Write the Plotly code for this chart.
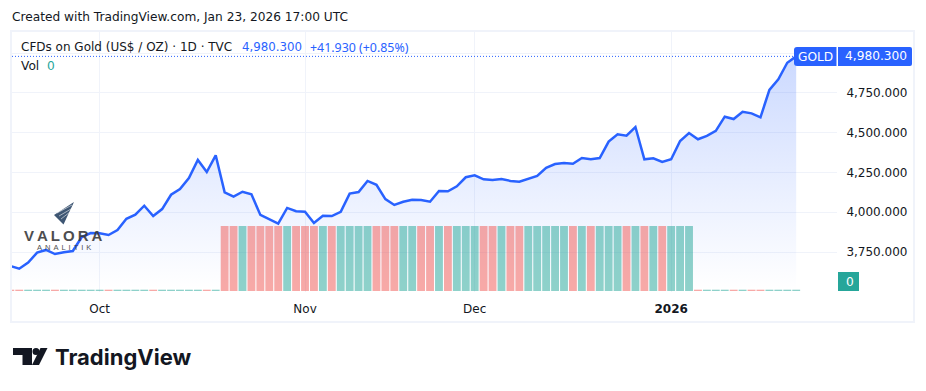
import plotly.graph_objects as go

W, H = 926, 391
PANE_L, PANE_R, PANE_T, PANE_B = 12, 837, 32, 292

close_prices = [
    3662, 3645, 3683, 3746, 3763, 3737, 3748, 3756, 3844, 3869,
    3868, 3857, 3888, 3959, 3985, 4041, 3976, 4020, 4110, 4146,
    4215, 4329, 4253, 4358, 4125, 4098, 4129, 4113, 3983, 3956,
    3928, 4027, 4006, 4003, 3932, 3978, 3976, 4003, 4117, 4127,
    4197, 4173, 4083, 4046, 4066, 4079, 4077, 4066, 4134, 4132,
    4163, 4220, 4232, 4207, 4203, 4209, 4197, 4192, 4209, 4228,
    4280, 4303, 4310, 4305, 4341, 4333, 4341, 4444, 4490, 4481,
    4536, 4333, 4339, 4316, 4333, 4448, 4498, 4459, 4480, 4512,
    4601, 4586, 4632, 4622, 4597, 4769, 4836, 4940, 4980.3,
]
volumes = [
    .02, .02, .02, .02, .02, .02, .02, .02, .02, .02, .02, .02,
    .02, .02, .02, .02, .02, .02, .02, .02, .02, .02, .02, .02,
    1, 1, 1, 1, 1, 1, 1, 1, 1, 1,
    1, 1, 1, 1, 1, 1, 1, 1, 1, 1,
    1, 1, 1, 1, 1, 1, 1, 1, 1, 1,
    1, 1, 1, 1, 1, 1, 1, 1, 1, 1,
    1, 1, 1, 1, 1, 1, 1, 1, 1, 1,
    1, 1, 1,
    .02, .02, .02, .02, .02, .02, .02, .02, .02, .02, .02, .02,
]
directions = list(
    "dduuuduuuu" "uduuuuduuu" "uudu"
    "dduddddudd" "duduuuuddd" "uudduduuud" "dudduuuuud" "uduuududud" "uuu"
    "duuududduuuu"
)
tick_positions = [10, 33, 52, 74]
tick_labels = ["Oct", "Nov", "Dec", "<b>2026</b>"]
price_ticks = [3750, 4000, 4250, 4500, 4750, 5000]
price_tick_labels = ["3,750.000", "4,000.000", "4,250.000", "4,500.000", "4,750.000", ""]

BLUE = "#2962FF"
TEAL = "#26A69A"
TEXT = "#131722"
FONT = "DejaVu Sans"
bar_colors = {"u": "rgba(38,166,154,0.52)", "d": "rgba(239,83,80,0.5)"}


def px(x):
    return (x - PANE_L) / (PANE_R - PANE_L)


def py(y):
    return (PANE_B - y) / (PANE_B - PANE_T)


def poly(points):
    return "M " + " L ".join(f"{px(a):.5f},{py(b):.5f}" for a, b in points) + " Z"


def rounded(x0, y0, x1, y1, left, right):
    parts = [f"M {px(x0 + left):.5f},{py(y0):.5f}", f"L {px(x1 - right):.5f},{py(y0):.5f}"]
    if right:
        parts.append(f"Q {px(x1):.5f},{py(y0):.5f} {px(x1):.5f},{py(y0 + right):.5f}")
        parts.append(f"L {px(x1):.5f},{py(y1 - right):.5f}")
        parts.append(f"Q {px(x1):.5f},{py(y1):.5f} {px(x1 - right):.5f},{py(y1):.5f}")
    else:
        parts.append(f"L {px(x1):.5f},{py(y1):.5f}")
    parts.append(f"L {px(x0 + left):.5f},{py(y1):.5f}")
    if left:
        parts.append(f"Q {px(x0):.5f},{py(y1):.5f} {px(x0):.5f},{py(y1 - left):.5f}")
        parts.append(f"L {px(x0):.5f},{py(y0 + left):.5f}")
        parts.append(f"Q {px(x0):.5f},{py(y0):.5f} {px(x0 + left):.5f},{py(y0):.5f}")
    parts.append("Z")
    return " ".join(parts)


indices = list(range(len(close_prices)))
fig = go.Figure()
fig.add_trace(go.Scatter(
    x=indices, y=close_prices, mode="lines", line=dict(color=BLUE, width=2.5),
    fill="tozeroy",
    fillgradient=dict(type="vertical", start=3510, stop=4980,
                      colorscale=[[0, "rgba(41,98,255,0.0)"], [0.35, "rgba(41,98,255,0.08)"],
                                  [1, "rgba(41,98,255,0.24)"]]),
    hoverinfo="skip", showlegend=False,
))
fig.add_trace(go.Bar(
    x=indices, y=volumes, yaxis="y2", width=0.88, marker_line_width=0,
    marker_color=[bar_colors[d] for d in directions], hoverinfo="skip", showlegend=False,
))

shapes = [
    dict(type="rect", xref="paper", yref="paper", x0=px(11), x1=px(914), y0=py(31), y1=py(322),
         line=dict(color="#F0F3FA", width=2), layer="below"),
    dict(type="line", xref="paper", yref="y", x0=0, x1=px(794), y0=close_prices[-1], y1=close_prices[-1],
         line=dict(color=BLUE, width=1, dash="1px,2px")),
    dict(type="path", xref="paper", yref="paper", path=rounded(794, 47, 836.5, 66, 3, 0),
         fillcolor=BLUE, line_width=0),
    dict(type="path", xref="paper", yref="paper", path=rounded(838, 47, 912, 66, 0, 2),
         fillcolor=BLUE, line_width=0),
    dict(type="rect", xref="paper", yref="paper", x0=px(838), x1=px(859), y0=py(272), y1=py(291),
         fillcolor=TEAL, line_width=0),
    dict(type="path", xref="paper", yref="paper",
         path=poly([(13, 348), (32, 348), (32, 365), (22.5, 365), (22.5, 355), (13, 355)]),
         fillcolor=TEXT, line_width=0),
    dict(type="circle", xref="paper", yref="paper", x0=px(32.5), x1=px(39.5), y0=py(348), y1=py(355),
         fillcolor=TEXT, line_width=0),
    dict(type="path", xref="paper", yref="paper",
         path=poly([(40.5, 348), (47.5, 348), (39, 365), (32, 365)]),
         fillcolor=TEXT, line_width=0),
    dict(type="path", xref="paper", yref="paper",
         path=poly([(54, 215), (74, 202), (63.5, 224.5)]),
         fillcolor="#3E5673", line_width=0),
]
for a, b in [((57, 213), (72, 205)), ((59, 216), (71, 209)), ((61, 219), (70, 212))]:
    shapes.append(dict(type="line", xref="paper", yref="paper", x0=px(a[0]), y0=py(a[1]),
                       x1=px(b[0]), y1=py(b[1]), line=dict(color="rgba(255,255,255,0.55)", width=1)))


def label(text, x, y, size=12.2, color=TEXT, anchor="left", **kw):
    return dict(text=text, xref="paper", yref="paper", x=px(x), y=py(y), xanchor=anchor, yanchor="middle",
                showarrow=False, font=dict(family=kw.pop("family", FONT), size=size, color=color),
                borderpad=0, **kw)


annotations = [
    label("Created with TradingView.com, Jan 23, 2026 17:00 UTC", 10.5, 17),
    label("CFDs on Gold (US$ / OZ) · 1D · TVC", 19.5, 47, size=12),
    label("4,980.300", 240.5, 47, size=11.8, color=BLUE),
    label("+41.930 (+0.85%)", 308.5, 47, size=12.4, color=BLUE, family="Noto Sans"),
    label("Vol", 19.5, 66),
    label("0", 46, 66, color=TEAL),
    label("GOLD", 815.5, 57, color="white", anchor="center"),
    label("4,980.300", 908, 56, color="white", anchor="right"),
    label("0", 850, 282, color="white", anchor="center"),
    label("<b>TradingView</b>", 53.5, 357, size=22, family="Inter"),
    label("<b>V\u2009A\u2009L\u2009O\u2009R\u2009A</b>", 63.5, 235, size=15, color="#3A3A3C", anchor="center", opacity=0.9, family="Liberation Sans"),
    label("A\u2009\u2009N\u2009\u2009A\u2009\u2009L\u2009\u2009I\u2009\u2009T\u2009\u2009I\u2009\u2009K", 64, 248, size=7.5, color="#3A3A3C", anchor="center", opacity=0.9, family="Liberation Sans"),
]

fig.update_layout(
    width=W, height=H, autosize=False, paper_bgcolor="white", plot_bgcolor="white",
    margin=dict(l=PANE_L, r=W - PANE_R, t=PANE_T, b=H - PANE_B, pad=0),
    barmode="overlay", showlegend=False,
    font=dict(family=FONT, size=12, color=TEXT),
    xaxis=dict(range=[0.19, 92.57], tickmode="array", tickvals=tick_positions, ticktext=tick_labels,
               showgrid=True, gridcolor="#F0F3FA", gridwidth=1, zeroline=False, showline=False,
               ticks="outside", ticklen=6, tickcolor="rgba(0,0,0,0)", tickangle=0,
               tickfont=dict(family=FONT, size=12, color=TEXT)),
    yaxis=dict(range=[3498.4, 5133.6], side="right", tickmode="array", tickvals=price_ticks,
               ticktext=price_tick_labels, showgrid=True, gridcolor="#F0F3FA", gridwidth=1,
               zeroline=False, showline=False, ticks="outside", ticklen=6, tickcolor="rgba(0,0,0,0)",
               tickfont=dict(family=FONT, size=12, color=TEXT)),
    yaxis2=dict(overlaying="y", range=[-0.0154, 3.985], visible=False, fixedrange=True),
    shapes=shapes, annotations=annotations,
)
fig.write_html("out.html", config=dict(displayModeBar=False),
               post_script="document.body.style.margin='0';document.documentElement.style.overflow='hidden';")
